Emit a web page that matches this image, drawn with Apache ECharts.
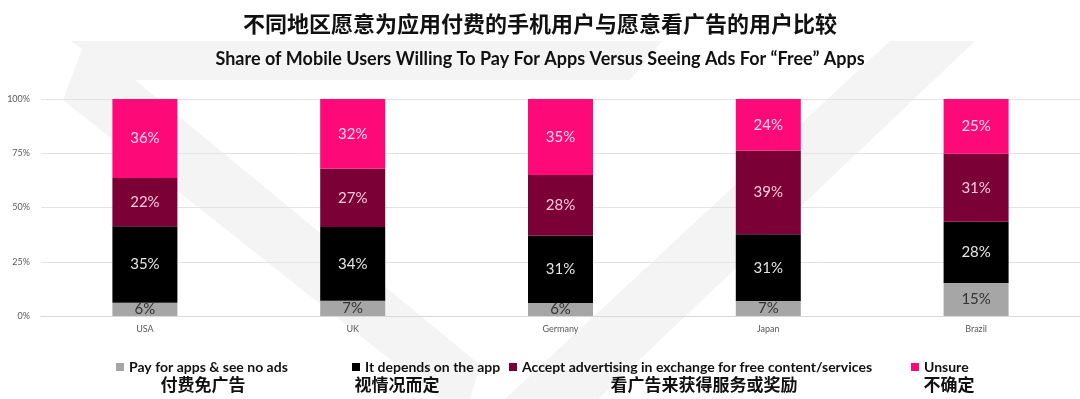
<!DOCTYPE html>
<html>
<head>
<meta charset="utf-8">
<script src="https://cdn.jsdelivr.net/npm/echarts@6/dist/echarts.min.js"></script>
<style>
html, body { margin: 0; padding: 0; background: #fff; }
#main { width: 1080px; height: 399px; }
</style>
</head>
<body>
<div id="main"></div>
<script>
var countries = ['USA', 'UK', 'Germany', 'Japan', 'Brazil'];
var payNoAds = [6, 7, 6, 7, 15];
var depends = [35, 34, 31, 31, 28];
var acceptAds = [22, 27, 28, 39, 31];
var unsure = [36, 32, 35, 24, 25];
var yTicks = [0, 25, 50, 75, 100];

var seriesNames = [
    'Pay for apps & see no ads',
    'It depends on the app',
    'Accept advertising in exchange for free content/services',
    'Unsure'
];
var seriesCn = ['付费免广告', '视情况而定', '看广告来获得服务或奖励', '不确定'];
var colors = ['#a6a6a6', '#000000', '#7a0036', '#fe0a78'];
var labelColors = ['#333333', '#e6e6e6', '#ffc9e1', '#ffd9eb'];
var raw = [payNoAds, depends, acceptAds, unsure];

// bars are drawn as share of 100% (the survey rows don't always add to exactly 100)
var totals = countries.map(function (c, i) {
    return payNoAds[i] + depends[i] + acceptAds[i] + unsure[i];
});

var myChart = echarts.init(document.getElementById('main'));

var series = raw.map(function (vals, k) {
    return {
        name: seriesNames[k],
        type: 'bar',
        stack: 'all',
        barWidth: 65,
        itemStyle: { color: colors[k] },
        label: {
            show: true,
            position: 'inside',
            fontFamily: 'Lato',
            fontSize: 15,
            color: labelColors[k],
            formatter: function (p) {
                return vals[p.dataIndex] + '%';
            }
        },
        data: vals.map(function (v, i) { return v / totals[i] * 100; })
    };
});

// legend padding is 5px, so these are the icon x minus 5
var legendLeft = [111, 347, 504, 906];
var cnCenter = [203, 397, 704, 949];

var legends = seriesNames.map(function (n, k) {
    return {
        data: [n],
        left: legendLeft[k],
        top: 355,
        icon: 'rect',
        itemWidth: 8,
        itemHeight: 8,
        itemGap: 4,
        selectedMode: false,
        textStyle: { fontFamily: 'Lato', fontWeight: 'bold', fontSize: 14, color: '#111' }
    };
});

var graphics = [
    { type: 'polygon', z: -10, shape: { points: [[70, 41], [662, 41], [630, 80], [135, 80]] }, style: { fill: '#f4f4f4' } },
    { type: 'polygon', z: -10, shape: { points: [[63, 100], [85, 41], [135, 80], [480, 365], [470, 399], [440, 399]] }, style: { fill: '#f4f4f4' } },
    { type: 'polygon', z: -10, shape: { points: [[890, 41], [975, 41], [598, 399], [505, 399]] }, style: { fill: '#f4f4f4' } }
];
seriesCn.forEach(function (t, k) {
    graphics.push({
        type: 'text',
        x: cnCenter[k],
        y: 385,
        style: {
            text: t,
            textAlign: 'center',
            textVerticalAlign: 'middle',
            fontFamily: 'Noto Sans CJK SC',
            fontWeight: 'bold',
            fontSize: 17,
            fill: '#111'
        }
    });
});

option = {
    backgroundColor: '#ffffff',
    title: [{
        text: '不同地区愿意为应用付费的手机用户与愿意看广告的用户比较',
        left: 'center',
        top: 8,
        textStyle: { fontFamily: 'Noto Sans CJK SC', fontWeight: 'bold', fontSize: 22, color: '#111' }
    }, {
        text: 'Share of Mobile Users Willing To Pay For Apps Versus Seeing Ads For \u201cFree\u201d Apps',
        left: 'center',
        top: 45,
        textStyle: { fontFamily: 'Lato', fontWeight: 'bold', fontSize: 18, color: '#111' }
    }],
    legend: legends,
    graphic: graphics,
    grid: { left: 41, right: 0, top: 99, bottom: 83, containLabel: false },
    xAxis: {
        type: 'category',
        data: countries,
        axisTick: { show: false },
        axisLine: { lineStyle: { color: '#d9d9d9' } },
        axisLabel: { fontFamily: 'Lato', fontSize: 9, color: '#595959', margin: 9 }
    },
    yAxis: {
        type: 'value',
        min: yTicks[0],
        max: yTicks[yTicks.length - 1],
        interval: 25,
        axisLabel: { fontFamily: 'Lato', fontSize: 9, color: '#595959', margin: 11, formatter: '{value}%' },
        splitLine: { lineStyle: { color: '#e3e3e3' } }
    },
    series: series
};

myChart.setOption(option);
</script>
</body>
</html>
